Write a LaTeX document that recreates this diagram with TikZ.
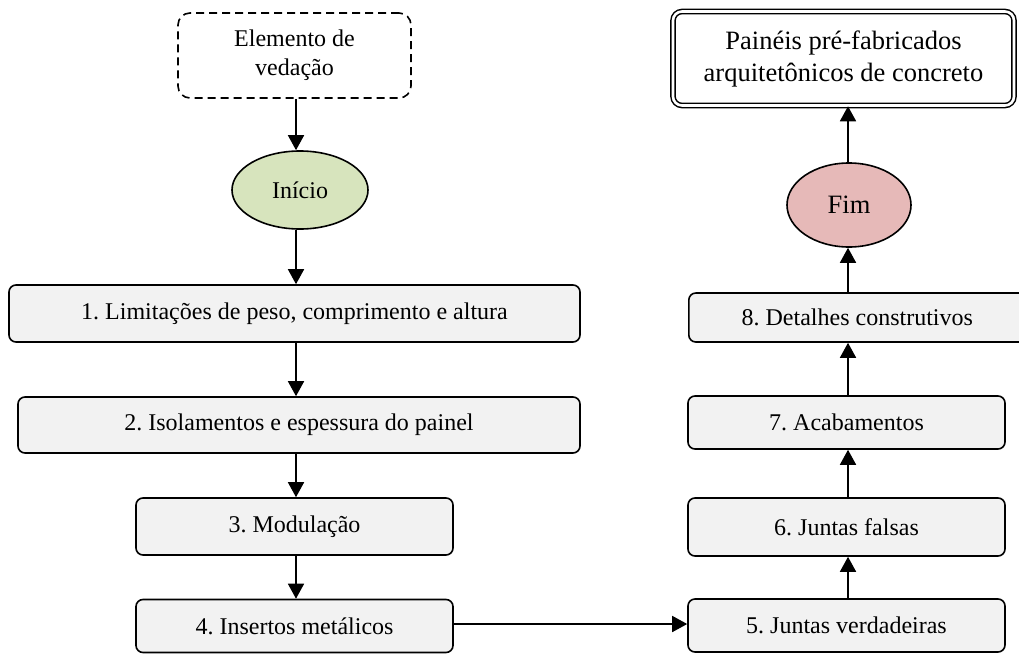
\documentclass[tikz,border=0pt]{standalone}
\usepackage{fontspec}
\setmainfont{Liberation Serif}
\usetikzlibrary{arrows.meta,shapes.geometric}
\definecolor{boxfill}{HTML}{F2F2F2}
\definecolor{startfill}{HTML}{D7E4BD}
\definecolor{endfill}{HTML}{E6B9B8}
\frenchspacing
\tikzset{
  stepbox/.style={draw, line width=1.6pt, rounded corners=7pt, fill=boxfill, inner sep=0pt,
    font=\fontsize{24}{29}\selectfont},
  oval/.style={draw, ellipse, line width=1.6pt, inner sep=0pt},
  conn/.style={line width=1.6pt, -{Triangle[width=16pt,length=15pt]}},
}
\begin{document}
\begin{tikzpicture}[x=1pt,y=-1pt]
\useasboundingbox (0,0) rectangle (1019,653);
% top left dashed box
\node[draw, dashed, dash pattern=on 8pt off 5pt, line width=1.6pt, rounded corners=12pt,
  minimum width=233pt, minimum height=85pt, inner sep=0pt, align=center,
  font=\fontsize{24}{29}\selectfont] (elem) at (294.5,55.5) {Elemento de\\vedação};
\node[oval, fill=startfill, minimum width=136pt, minimum height=78pt,
  font=\fontsize{24}{29}\selectfont] (inicio) at (300,190) {Início};
\node[stepbox, minimum width=571pt, minimum height=57pt] (b1) at (294.5,313.5) {1. Limitações de peso, comprimento e altura};
\node[stepbox, minimum width=562pt, minimum height=56pt] (b2) at (299,425) {2. Isolamentos e espessura do painel};
\node[stepbox, minimum width=317pt, minimum height=57pt] (b3) at (294.5,526.5) {3. Modulação};
\node[stepbox, minimum width=317pt, minimum height=53pt] (b4) at (294.5,626) {4. Insertos metálicos};
% right column
\node[stepbox, minimum width=317pt, minimum height=53pt] (b5) at (846.5,625.5) {5. Juntas verdadeiras};
\node[stepbox, minimum width=317pt, minimum height=58pt] (b6) at (846.5,527) {6. Juntas falsas};
\node[stepbox, minimum width=317pt, minimum height=53pt] (b7) at (846.5,422.5) {7. Acabamentos};
\node[stepbox, minimum width=337pt, minimum height=49pt, anchor=west] (b8) at (688,317.5) {8. Detalhes construtivos};
\node[oval, fill=endfill, minimum width=124pt, minimum height=84pt,
  font=\fontsize{26.5}{31}\selectfont] (fim) at (849,205) {Fim};
\node[draw, double, double distance=2.6pt, line width=1.5pt, rounded corners=9pt,
  minimum width=341pt, minimum height=94pt, inner sep=0pt, align=center,
  font=\fontsize{26.5}{32}\selectfont] (paineis) at (843.5,58.5) {Painéis pré-fabricados\\arquitetônicos de concreto};
% connectors
\draw[conn] (elem.south -| 296,0) -- (inicio.north -| 296,0);
\draw[conn] (inicio.south -| 296,0) -- (b1.north -| 296,0);
\draw[conn] (b1.south -| 296,0) -- (b2.north -| 296,0);
\draw[conn] (b2.south -| 296,0) -- (b3.north -| 296,0);
\draw[conn] (b3.south -| 296,0) -- (b4.north -| 296,0);
\draw[conn] (b4.east |- 0,624) -- (b5.west |- 0,624);
\draw[conn] (b5.north -| 848,0) -- (b6.south -| 848,0);
\draw[conn] (b6.north -| 848,0) -- (b7.south -| 848,0);
\draw[conn] (b7.north -| 848,0) -- (b8.south -| 848,0);
\draw[conn] (b8.north -| 848,0) -- (fim.south -| 848,0);
\draw[conn] (fim.north -| 848,0) -- (paineis.south -| 848,0);
\end{tikzpicture}
\end{document}
